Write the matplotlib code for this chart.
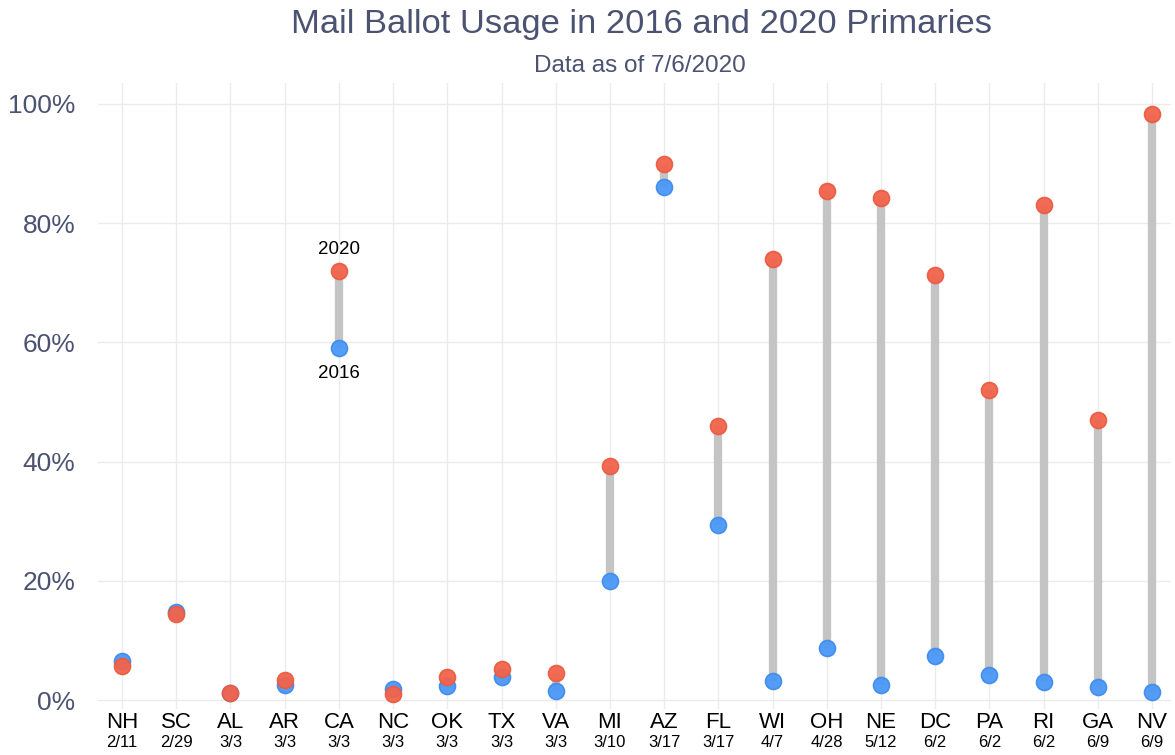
import numpy as np
import matplotlib.pyplot as plt

plt.rcParams["font.family"] = ["Liberation Sans", "DejaVu Sans"]

# * - - - Data (share of votes cast by mail, %)
states = ["NH", "SC", "AL", "AR", "CA", "NC", "OK", "TX", "VA", "MI",
          "AZ", "FL", "WI", "OH", "NE", "DC", "PA", "RI", "GA", "NV"]
dates = ["2/11", "2/29", "3/3", "3/3", "3/3", "3/3", "3/3", "3/3", "3/3", "3/10",
         "3/17", "3/17", "4/7", "4/28", "5/12", "6/2", "6/2", "6/2", "6/9", "6/9"]
pct_2016 = [6.6, 14.7, 1.2, 2.6, 59.0, 1.9, 2.3, 3.9, 1.5, 20.0,
            86.0, 29.3, 3.2, 8.8, 2.6, 7.4, 4.2, 3.1, 2.2, 1.3]
pct_2020 = [5.8, 14.4, 1.2, 3.4, 72.0, 1.0, 3.8, 5.2, 4.6, 39.2,
            90.0, 46.0, 74.0, 85.4, 84.3, 71.3, 52.0, 83.0, 47.0, 98.4]

blue = "#4a98f7"
red = "#f2634b"
seg = "#c4c4c4"
title_col = "#4b5272"

x = np.arange(len(states))

fig = plt.figure(figsize=(11.75, 7.55), dpi=100)
ax = fig.add_axes([0.0831, 0.0609, 0.9135, 0.829])

# * - - - Gray segments between the two years
ax.vlines(x, pct_2016, pct_2020, color=seg, linewidth=6, zorder=2)

# * - - - Dots: 2016 first, 2020 on top
ax.plot(x, pct_2016, "o", color=blue, markersize=11.5, markeredgecolor="#3f8cef",
        markeredgewidth=1.2, alpha=0.95, zorder=3)
ax.plot(x, pct_2020, "o", color=red, markersize=11.5, markeredgecolor="#ec5a42",
        markeredgewidth=1.2, alpha=0.95, zorder=4)

# * - - - Year labels on CA
ca = states.index("CA")
ax.annotate("2020", (ca, pct_2020[ca]), xytext=(0, 9), textcoords="offset points",
            ha="center", va="bottom", fontsize=13.5, color="black")
ax.annotate("2016", (ca, pct_2016[ca]), xytext=(0, -12), textcoords="offset points",
            ha="center", va="top", fontsize=13.5, color="black")

# * - - - Axes, grid
ax.set_xlim(-0.45, 19.35)
ax.set_ylim(-1.5, 103.5)
ax.set_yticks([0, 20, 40, 60, 80, 100])
ax.set_yticklabels([f"{v}%" for v in [0, 20, 40, 60, 80, 100]],
                   fontsize=19, color=title_col)
ax.set_xticks(x)
ax.set_xticklabels(states, fontsize=16, color="black")
ax.tick_params(axis="y", length=0, pad=16)
ax.tick_params(axis="x", length=0, pad=2)
ax.grid(True, color="#ebebeb", linewidth=1)
ax.set_axisbelow(True)
for s in ax.spines.values():
    s.set_visible(False)

# * - - - Primary dates under the state names
for i, d in enumerate(dates):
    ax.annotate(d, (i, 0), xycoords=("data", "axes fraction"), xytext=(0, -19),
                textcoords="offset points", ha="center", va="top",
                fontsize=12, color="black")

# * - - - Titles
fig.text(0.546, 0.968, "Mail Ballot Usage in 2016 and 2020 Primaries",
         ha="center", va="center", fontsize=24.8, color=title_col)
fig.text(0.545, 0.912, "Data as of 7/6/2020", ha="center", va="center",
         fontsize=17.5, color=title_col)

fig.savefig("out.png", dpi=100, facecolor="white")
